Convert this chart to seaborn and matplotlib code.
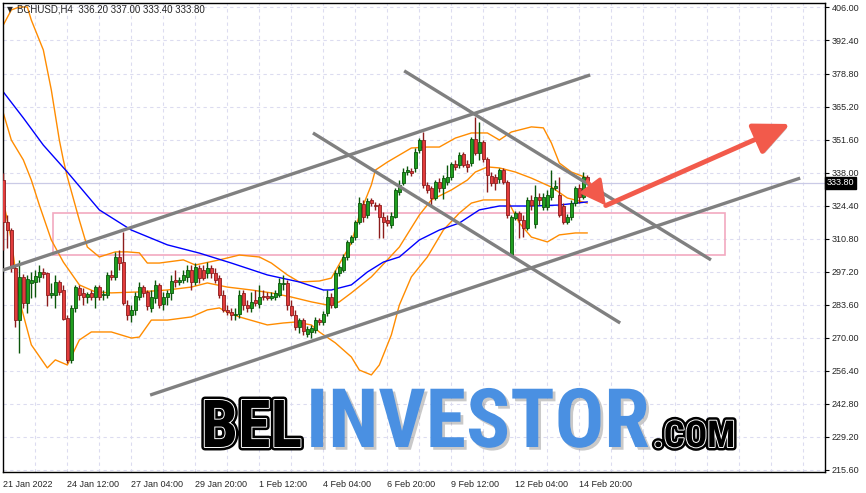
import matplotlib
matplotlib.use("Agg")
import matplotlib.pyplot as plt
import matplotlib.patheffects as pe
from matplotlib import font_manager
from matplotlib.patches import Rectangle, FancyArrowPatch
from matplotlib.transforms import blended_transform_factory
import numpy as np
import pandas as pd
import seaborn as sns

# BCHUSD H4 candles, 21 Jan 2022 20:00 .. 15 Feb 2022 04:00 (one value per bar)
opens = [334.9, 317.6, 314.3, 298.7, 277.2, 295.0, 284.2, 292.5, 292.9, 295.0,
         297.0, 296.6, 287.5, 287.5, 292.9, 289.6, 278.1, 260.8, 282.2, 290.4,
         288.4, 286.7, 288.4, 286.7, 290.8, 287.5, 287.5, 295.8, 295.0, 303.2,
         301.1, 283.4, 279.3, 281.4, 286.7, 290.8, 288.8, 282.2, 286.3, 291.7,
         283.8, 286.7, 288.4, 293.7, 292.9, 293.7, 295.0, 297.9, 292.9, 298.7,
         297.9, 296.6, 298.7, 296.6, 294.5, 287.5, 281.4, 280.5, 279.3, 279.7,
         288.4, 283.4, 282.2, 285.5, 283.8, 287.1, 287.1, 286.3, 286.7, 287.5,
         292.1, 292.5, 283.0, 279.3, 274.4, 277.2, 271.5, 272.3, 273.1, 277.2,
         276.4, 280.1, 286.7, 282.6, 296.6, 297.9, 303.2, 309.4, 311.4, 317.6,
         325.0, 320.5, 326.7, 324.6, 324.6, 319.7, 318.4, 316.4, 319.7, 330.0,
         333.7, 338.2, 338.6, 339.9, 347.3, 351.4, 332.9, 331.6, 327.5, 334.1,
         331.6, 334.1, 336.2, 341.5, 341.1, 345.6, 341.5, 341.9, 351.8, 346.1,
         350.6, 343.6, 336.6, 336.2, 335.3, 339.0, 334.1, 304.0, 319.3, 321.3,
         318.4, 315.1, 326.7, 316.8, 327.9, 323.8, 323.8, 327.9, 331.6, 328.7,
         324.2, 317.6, 319.7, 325.4, 331.6, 327.9, 336.2]
highs = [337.8, 320.5, 315.1, 299.9, 302.0, 296.2, 295.8, 297.0, 297.9, 299.9,
         298.7, 297.0, 292.5, 295.8, 293.7, 291.7, 279.3, 283.4, 291.7, 291.7,
         290.4, 288.8, 289.6, 291.7, 291.7, 289.6, 297.0, 297.9, 305.3, 306.1,
         313.5, 285.5, 283.4, 288.8, 292.9, 291.7, 289.6, 289.6, 293.7, 292.5,
         288.8, 289.6, 295.8, 297.9, 295.0, 297.9, 299.9, 299.9, 300.7, 299.9,
         299.9, 301.1, 299.9, 298.7, 295.8, 289.6, 283.4, 282.2, 282.2, 289.6,
         289.6, 285.5, 288.8, 289.6, 291.7, 289.6, 288.8, 288.8, 289.6, 294.5,
         295.8, 293.7, 285.5, 281.4, 278.1, 278.1, 274.8, 275.2, 278.5, 278.1,
         280.9, 289.6, 288.4, 297.9, 299.9, 304.4, 310.2, 312.3, 318.4, 327.9,
         326.7, 327.5, 327.5, 325.9, 325.4, 321.7, 320.5, 321.7, 331.6, 334.9,
         339.9, 340.7, 339.9, 348.1, 352.2, 354.7, 334.1, 332.5, 334.9, 335.7,
         337.0, 341.1, 342.3, 343.2, 346.5, 346.5, 343.2, 352.6, 360.9, 358.8,
         351.4, 344.4, 338.2, 337.4, 339.9, 339.9, 334.9, 320.5, 322.2, 322.2,
         320.5, 327.9, 328.7, 332.9, 329.6, 329.6, 330.8, 339.0, 334.9, 336.2,
         325.4, 320.9, 326.7, 332.5, 333.3, 338.2, 337.0]
lows = [306.1, 306.9, 297.0, 274.4, 263.7, 282.2, 280.1, 286.3, 286.7, 292.9,
        294.5, 283.0, 286.3, 282.2, 287.5, 277.2, 259.5, 259.5, 280.5, 285.5,
        283.4, 284.2, 285.5, 282.2, 285.5, 285.5, 286.3, 293.7, 293.7, 297.9,
        283.4, 277.2, 276.4, 279.3, 285.5, 286.7, 281.4, 280.5, 284.2, 282.2,
        281.4, 283.4, 285.5, 290.8, 291.7, 292.5, 292.9, 289.6, 291.7, 292.5,
        293.7, 294.5, 294.5, 292.5, 286.3, 280.5, 279.3, 277.2, 277.2, 278.1,
        281.4, 280.5, 280.5, 283.0, 282.2, 285.5, 285.5, 285.5, 285.5, 286.7,
        289.6, 281.4, 278.9, 273.1, 271.9, 271.1, 270.2, 269.8, 271.9, 275.2,
        275.2, 278.9, 282.2, 282.2, 295.4, 297.0, 302.0, 308.6, 310.2, 316.8,
        317.6, 319.3, 324.2, 322.6, 311.0, 311.0, 316.0, 315.1, 319.3, 328.7,
        332.9, 337.0, 336.6, 338.2, 346.1, 331.6, 329.6, 324.6, 326.7, 330.0,
        327.1, 332.9, 334.9, 339.0, 339.9, 340.3, 338.2, 340.7, 345.2, 343.2,
        342.3, 330.0, 332.5, 330.8, 333.7, 333.3, 319.3, 303.6, 318.4, 311.0,
        311.4, 314.3, 322.6, 315.1, 324.6, 322.6, 322.6, 326.7, 330.8, 319.7,
        316.8, 316.8, 318.4, 324.2, 325.4, 327.1, 333.4]
closes = [317.6, 314.3, 298.7, 277.2, 295.0, 284.2, 294.1, 293.7, 295.4, 297.0,
          296.2, 287.5, 288.4, 292.9, 288.8, 277.6, 260.8, 282.2, 290.8, 287.5,
          286.7, 288.0, 286.7, 290.8, 286.7, 288.0, 295.8, 295.0, 303.2, 300.7,
          284.2, 279.3, 281.4, 287.1, 290.8, 288.4, 283.0, 286.7, 291.7, 283.4,
          286.7, 288.4, 293.3, 292.9, 293.7, 295.8, 297.9, 292.9, 299.1, 294.5,
          294.5, 298.7, 296.6, 293.7, 287.5, 281.4, 280.5, 279.3, 279.7, 287.5,
          283.4, 282.2, 284.7, 284.2, 286.7, 286.7, 286.3, 287.1, 288.4, 292.5,
          292.5, 283.4, 279.3, 274.4, 277.2, 272.7, 273.5, 273.9, 277.2, 276.4,
          279.7, 286.7, 283.4, 296.6, 299.1, 303.2, 309.4, 311.4, 317.6, 325.4,
          319.7, 326.3, 325.4, 324.2, 319.7, 317.6, 317.2, 320.1, 330.8, 332.9,
          338.2, 339.0, 337.8, 346.5, 351.4, 332.9, 330.8, 327.5, 334.1, 331.6,
          335.7, 336.2, 341.5, 340.3, 345.2, 341.1, 340.3, 351.8, 346.1, 350.6,
          343.6, 337.0, 333.7, 333.7, 339.0, 334.1, 320.5, 319.7, 321.3, 318.4,
          315.1, 326.7, 324.6, 327.9, 326.7, 327.9, 328.7, 331.6, 332.5, 320.5,
          317.6, 319.7, 325.4, 331.6, 327.9, 336.2, 333.8]

bb_upper_bars = [0, 2, 4, 6, 7, 10, 12, 14, 15, 16, 19, 21, 24, 28, 31, 34, 36, 39, 45, 48,
                 54, 59, 64, 67, 71, 74, 79, 82, 85, 87, 89, 92, 93, 96, 99, 102, 106, 109, 113, 117,
                 121, 124, 127, 132, 135, 137, 139, 142, 146]
bb_upper = [398.8, 405.0, 406.2, 406.2, 400.8, 388.5, 372.0, 351.4, 343.2, 336.2,
            318.4, 307.3, 303.2, 305.3, 305.3, 304.9, 300.7, 300.7, 302.0, 299.9,
            302.0, 304.0, 303.2, 300.7, 295.8, 292.9, 293.3, 294.5, 303.2, 309.0,
            320.5, 332.9, 339.0, 342.3, 345.2, 348.1, 348.5, 348.5, 352.2, 354.3,
            354.3, 351.4, 354.7, 356.8, 356.4, 350.2, 341.9, 338.2, 335.7]
bb_mid_bars = [0, 2, 5, 7, 9, 12, 15, 19, 23, 27, 34, 41, 47, 51, 56, 62, 67, 72, 77, 81,
               84, 87, 92, 96, 99, 104, 107, 112, 116, 118, 121, 124, 128, 132, 137, 141, 146]
bb_mid = [362.5, 351.4, 343.2, 334.9, 324.6, 310.2, 301.1, 291.7, 288.8, 288.4,
          288.8, 289.6, 290.8, 292.5, 290.8, 289.6, 288.4, 286.7, 284.7, 283.4,
          284.7, 288.4, 295.0, 302.0, 307.3, 320.5, 326.7, 330.8, 334.9, 338.2,
          340.3, 339.9, 338.2, 335.7, 332.0, 327.5, 325.4]
bb_lower_bars = [0, 2, 4, 7, 11, 13, 16, 19, 22, 27, 32, 34, 37, 41, 47, 51, 54, 56, 59, 66,
                 70, 73, 77, 79, 83, 87, 89, 92, 94, 97, 99, 102, 106, 110, 114, 117, 120, 126, 129, 132,
                 136, 139, 143, 146]
bb_lower = [326.3, 310.2, 285.5, 267.0, 257.5, 260.8, 258.7, 269.0, 272.3, 272.3,
            269.8, 270.2, 277.2, 277.2, 278.5, 281.4, 282.2, 280.5, 278.5, 275.2,
            276.0, 276.4, 275.2, 272.3, 267.8, 262.0, 256.6, 254.6, 258.7, 271.1,
            283.4, 295.0, 303.2, 314.3, 321.3, 325.4, 326.7, 326.7, 317.2, 311.4,
            309.4, 312.3, 313.1, 313.1]
ma_bars = [0, 5, 10, 16, 24, 32, 41, 49, 57, 66, 74, 80, 82, 87, 91, 95, 99, 104, 109, 114,
           119, 124, 132, 139, 146]
ma_values = [371.2, 360.5, 349.3, 338.2, 322.6, 314.3, 308.2, 304.8, 300.7, 295.8,
             292.9, 289.6, 289.6, 291.7, 297.0, 301.1, 303.2, 310.2, 314.3, 317.2,
             322.6, 324.2, 324.2, 324.6, 325.9]

# hand-drawn objects: trend lines (bar, price) -> (bar, price)
trend_lines = [((-1.0, 297.3), (146.7, 378.2)),
               ((36.7, 246.3), (199.2, 335.7)),
               ((77.4, 354.3), (154.2, 276.0)),
               ((100.2, 379.9), (176.9, 302.0))]
zone_bars = (12.4, 180.4)
zone_prices = (304.0, 321.3)
arrow_points = [(146.0, 334.5), (150.6, 324.4), (196.7, 358.0)]

last_price = 333.80
title = "BCHUSD,H4  336.20 337.00 333.40 333.80"
y_ticks = [215.6, 229.2, 242.8, 256.4, 270.0, 283.6, 297.2, 310.8, 324.4, 338.0,
           351.6, 365.2, 378.8, 392.4, 406.0]
x_tick_bars = [0, 16, 32, 48, 64, 80, 96, 112, 128, 144]
x_tick_labels = ["21 Jan 2022", "24 Jan 12:00", "27 Jan 04:00", "29 Jan 20:00", "1 Feb 12:00",
                 "4 Feb 04:00", "6 Feb 20:00", "9 Feb 12:00", "12 Feb 04:00", "14 Feb 20:00"]

sns.set_style("white")
plt.rcParams['font.family'] = ['Liberation Sans', 'DejaVu Sans']

W, H = 866, 493
fig = plt.figure(figsize=(W / 100, H / 100), dpi=100)
ax = fig.add_axes([3 / W, 21 / H, 822 / W, 469 / H])
ax.set_xlim(-0.08, 205.4)
ax.set_ylim(214.6, 407.85)

grid_kw = dict(color='#dcdcf0', lw=0.8, ls=(0, (3, 3)), zorder=0)
for v in y_ticks:
    ax.axhline(v, **grid_kw)
for b in range(8, 206, 8):
    ax.axvline(b, **grid_kw)
ax.axhline(last_price, color='#cacae6', lw=0.9, zorder=1)

# support / resistance zone
ax.add_patch(Rectangle((zone_bars[0], zone_prices[0]), zone_bars[1] - zone_bars[0],
                       zone_prices[1] - zone_prices[0], fill=False, ec='#f2a9c0', lw=1.2, zorder=1.5))

# indicators
sns.lineplot(x=bb_upper_bars, y=bb_upper, ax=ax, color='#ff8c00', lw=1, zorder=2)
sns.lineplot(x=bb_mid_bars, y=bb_mid, ax=ax, color='#ff8c00', lw=1, zorder=2)
sns.lineplot(x=bb_lower_bars, y=bb_lower, ax=ax, color='#ff8c00', lw=1, zorder=2)
sns.lineplot(x=ma_bars, y=ma_values, ax=ax, color='#0000ff', lw=1, zorder=2.2)

# candles
df = pd.DataFrame({'o': opens, 'h': highs, 'l': lows, 'c': closes})
df['bar'] = np.arange(len(df))
up = df['c'] >= df['o']
body_lo = np.minimum(df['o'], df['c'])
body_h = np.maximum((df['c'] - df['o']).abs(), 0.4)
for mask, fill, edge in [(up, '#1f9e1f', '#0b560b'), (~up, '#e23c3c', '#8c1c1c')]:
    ax.vlines(df['bar'][mask], df['l'][mask], df['h'][mask], color=edge, lw=1, zorder=3)
    ax.bar(df['bar'][mask], body_h[mask], bottom=body_lo[mask], width=0.62,
           color=fill, edgecolor=edge, lw=0.6, zorder=4)

# trend channel lines
for (b0, p0), (b1, p1) in trend_lines:
    ax.plot([b0, b1], [p0, p1], color='#808080', lw=2.4, solid_capstyle='butt', zorder=6)

# arrow
shadow = [pe.SimplePatchShadow(offset=(1.5, -1.5), alpha=0.3), pe.Normal()]
ax.add_patch(FancyArrowPatch(arrow_points[0], arrow_points[1],
                             arrowstyle='-|>,head_length=0.75,head_width=0.4', mutation_scale=20,
                             color='#f25a4b', lw=2.5, shrinkA=0, shrinkB=0, zorder=7, path_effects=shadow))
ax.add_patch(FancyArrowPatch(arrow_points[1], arrow_points[2],
                             arrowstyle='-|>,head_length=1.1,head_width=0.5', mutation_scale=20,
                             color='#f25a4b', lw=3.5, shrinkA=0, shrinkB=0, zorder=7, path_effects=shadow))

# axes look
for s in ax.spines.values():
    s.set_color('black')
    s.set_linewidth(1)
ax.yaxis.tick_right()
ax.set_yticks(y_ticks)
ax.set_yticklabels([f"{v:.2f}" for v in y_ticks])
ax.set_xticks(x_tick_bars)
ax.set_xticklabels(x_tick_labels)
for lab in ax.get_xticklabels():
    lab.set_horizontalalignment('left')
ax.tick_params(axis='both', direction='out', length=3, width=0.8, color='black',
               labelsize=6.5, pad=2)
ax.tick_params(axis='x', pad=2.5)
ax.set_xlabel('')
ax.set_ylabel('')

ax.text(1.002, last_price, f"{last_price:.2f}", transform=blended_transform_factory(ax.transAxes, ax.transData),
        ha='left', va='center', fontsize=6.5, color='white', zorder=10, clip_on=False,
        bbox=dict(boxstyle='square,pad=0.18', fc='black', ec='black'))

# chart header
fig.text(7 / W, 1 - 10 / H, '▼', fontsize=5.5, family='DejaVu Sans', va='center', ha='left')
fig.text(17 / W, 1 - 10 / H, title, fontsize=7, va='center', ha='left')

# watermark logo
names = {f.name for f in font_manager.fontManager.ttflist}
logo_family = next((n for n in ['Liberation Sans Narrow', 'DejaVu Sans Condensed', 'Roboto Condensed', 'Liberation Sans']
                    if n in names), 'DejaVu Sans')
renderer = fig.canvas.get_renderer()


def fit_text(x0, x1, base, s, color, effects):
    t = fig.text(x0 / W, 1 - base / H, s, fontsize=40, family=logo_family, weight='bold',
                 color=color, ha='left', va='baseline', zorder=20, path_effects=effects)
    w = t.get_window_extent(renderer).width
    t.set_fontsize(40 * (x1 - x0) / w)
    return t


outline = [pe.Stroke(linewidth=5, foreground='black'), pe.Stroke(linewidth=1.4, foreground='white'), pe.Normal()]
fit_text(201, 302, 447, 'BEL', 'black', outline)
fit_text(306, 649, 447, 'INVESTOR', '#4a90e2',
         [pe.SimplePatchShadow(offset=(2, -2), shadow_rgbFace='#666666', alpha=0.35), pe.Normal()])
fit_text(653, 735, 447, '.COM', 'black', outline)

fig.savefig('out.png', dpi=100)
